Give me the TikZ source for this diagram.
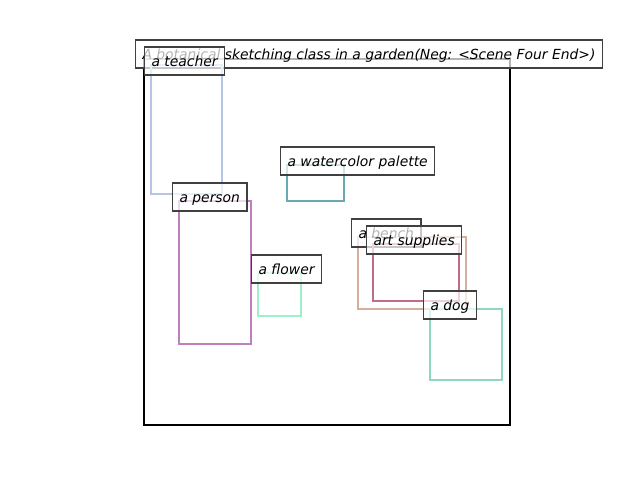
\documentclass[tikz,border=0pt]{standalone}
\usepackage{fontspec}
\setmainfont{DejaVu Sans}
\definecolor{cteacher}{HTML}{B4C6E8}
\definecolor{cperson}{HTML}{BF7FBF}
\definecolor{cwater}{HTML}{68A9B2}
\definecolor{cflower}{HTML}{9EF0C8}
\definecolor{cbench}{HTML}{D6AE9E}
\definecolor{cart}{HTML}{C06E88}
\definecolor{cdog}{HTML}{8ED8BE}
\begin{document}
\begin{tikzpicture}[x=0.72pt,y=-0.72pt,
  lbl/.style={draw=black!75, line width=0.8pt, fill=white, fill opacity=0.7, text opacity=1,
    font=\itshape\fontsize{10}{12}\selectfont, inner xsep=5pt, inner ysep=0pt,
    text height=8.8pt, text depth=1.2pt,
    minimum height=20.16pt, anchor=west},
  bx/.style={line width=1.6pt}]
\useasboundingbox (0,0) rectangle (640,480);
\draw[line width=1.8pt] (144,59) rectangle (510,425);
\node[lbl, anchor=center, minimum width=463*0.72pt] (title) at (369,54) {A botanical sketching class in a garden(Neg: <Scene Four End>)};
% teacher
\draw[bx, cteacher] (151,65) rectangle (222,194);
\node[lbl] (teacher) at (144,61) {a teacher};
% person
\draw[bx, cperson] (179,201) rectangle (251,344);
\node[lbl] (person) at (172,197) {a person};
% watercolor
\draw[bx, cwater] (287,165) rectangle (344,201);
\node[lbl] (water) at (280,161) {a watercolor palette};
% flower
\draw[bx, cflower] (258,273) rectangle (301,316);
\node[lbl] (flower) at (251,269) {a flower};
% bench
\draw[bx, cbench] (358,237) rectangle (466,309);
\node[lbl] (bench) at (351,233) {a bench};
% art supplies
\draw[bx, cart] (373,244) rectangle (459,301);
\node[lbl] (art) at (366,240) {art supplies};
% dog
\draw[bx, cdog] (430,309) rectangle (502,380);
\node[lbl] (dog) at (423,305) {a dog};
\end{tikzpicture}
\end{document}
